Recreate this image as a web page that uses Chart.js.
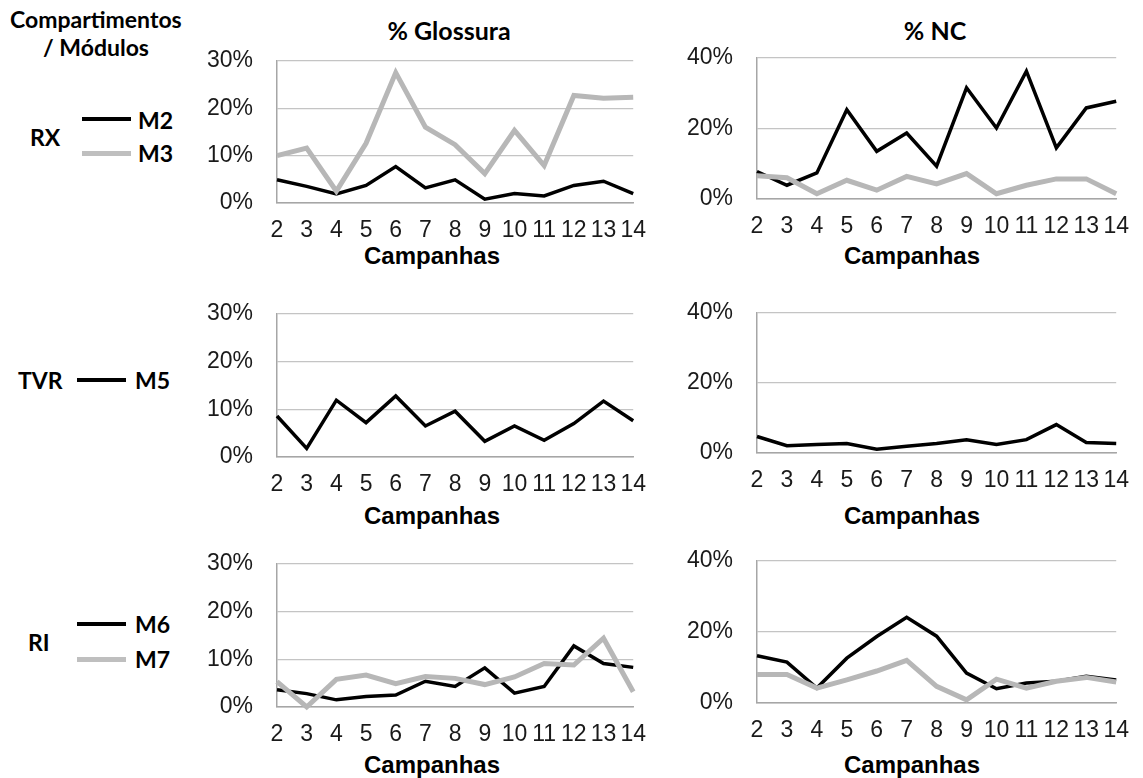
<!DOCTYPE html>
<html>
<head>
<meta charset="utf-8">
<script src="https://cdn.jsdelivr.net/npm/chart.js@4.4.1/dist/chart.umd.min.js"></script>
<style>
  html, body { margin: 0; padding: 0; background: #fff; }
  #page { position: relative; width: 1143px; height: 778px; overflow: hidden; }
  canvas { position: absolute; }
  .lbl { position: absolute; font-family: Lato, "Open Sans", sans-serif; font-weight: 700;
         font-size: 23px; color: #000; white-space: nowrap; line-height: 1; }
  .ttl { position: absolute; font-family: Lato, sans-serif; font-weight: 700; font-size: 25px;
         color: #000; white-space: nowrap; line-height: 1; transform: translate(-50%, -50%); }
  .xt { position: absolute; font-family: "Liberation Sans", Arial, sans-serif; font-weight: 700;
        font-size: 24px; color: #000; white-space: nowrap; line-height: 1; transform: translate(-50%, -50%); }
  .sw { position: absolute; height: 4px; width: 49px; }
</style>
</head>
<body>
<div id="page">
  <div class="lbl" style="left:10px; top:8px;">Compartimentos</div>
  <div class="lbl" style="left:43px; top:36px;">/ Módulos</div>

  <div class="lbl" style="left:30px; top:126px;">RX</div>
  <div class="sw" style="left:82px; top:117px; background:#000;"></div>
  <div class="lbl" style="left:138px; top:109px;">M2</div>
  <div class="sw" style="left:82px; top:151px; background:#bfbfbf; height:5px;"></div>
  <div class="lbl" style="left:138px; top:142px;">M3</div>

  <div class="lbl" style="left:18px; top:369px;">TVR</div>
  <div class="sw" style="left:77px; top:378px; background:#000;"></div>
  <div class="lbl" style="left:135px; top:369px;">M5</div>

  <div class="lbl" style="left:28px; top:631px;">RI</div>
  <div class="sw" style="left:77px; top:622px; background:#000;"></div>
  <div class="lbl" style="left:135px; top:613px;">M6</div>
  <div class="sw" style="left:77px; top:657px; background:#bfbfbf; height:5px;"></div>
  <div class="lbl" style="left:135px; top:648px;">M7</div>

  <div class="ttl" style="left:449px; top:30px;">% Glossura</div>
  <div class="ttl" style="left:935px; top:30px;">% NC</div>

  <div class="xt" style="left:432px; top:256px;">Campanhas</div>
  <div class="xt" style="left:912px; top:256px;">Campanhas</div>
  <div class="xt" style="left:432px; top:516px;">Campanhas</div>
  <div class="xt" style="left:912px; top:516px;">Campanhas</div>
  <div class="xt" style="left:432px; top:765px;">Campanhas</div>
  <div class="xt" style="left:912px; top:765px;">Campanhas</div>
</div>

<script>
// campanhas no eixo x
var campanhas = ['2', '3', '4', '5', '6', '7', '8', '9', '10', '11', '12', '13', '14'];

// ticks do eixo y (%)
var ticksGlossura = [0, 10, 20, 30];
var ticksNC = [0, 20, 40];

// RX
var rxGlossM2 = [4.9, 3.5, 1.9, 3.7, 7.7, 3.2, 4.9, 0.8, 2.0, 1.5, 3.7, 4.6, 2.0];
var rxGlossM3 = [10.0, 11.6, 2.5, 12.6, 27.5, 16.0, 12.3, 6.2, 15.3, 7.9, 22.7, 22.1, 22.3];
var rxNcM2 = [7.8, 3.9, 7.4, 25.3, 13.5, 18.7, 9.3, 31.5, 20.1, 36.2, 14.5, 25.8, 27.7];
var rxNcM3 = [6.6, 6.0, 1.5, 5.3, 2.5, 6.4, 4.3, 7.2, 1.5, 3.9, 5.7, 5.7, 1.5];

// TVR
var tvrGlossM5 = [8.6, 1.8, 11.9, 7.2, 12.8, 6.5, 9.6, 3.3, 6.5, 3.5, 7.0, 11.7, 7.6];
var tvrNcM5 = [4.7, 2.1, 2.4, 2.7, 1.1, 1.9, 2.7, 3.8, 2.4, 3.8, 8.1, 3.0, 2.7];

// RI
var riGlossM6 = [3.6, 2.8, 1.5, 2.2, 2.5, 5.4, 4.3, 8.2, 2.9, 4.3, 12.8, 9.1, 8.3];
var riGlossM7 = [5.3, 0, 5.8, 6.7, 4.9, 6.4, 6.0, 4.7, 6.3, 9.1, 8.8, 14.4, 3.2];
var riNcM6 = [13.3, 11.5, 4.2, 12.6, 18.7, 24.1, 18.8, 8.4, 4.0, 5.6, 6.1, 7.5, 6.5];
var riNcM7 = [8.0, 8.0, 4.2, 6.5, 9.0, 12.0, 4.7, 0.9, 6.7, 4.2, 6.1, 7.2, 5.9];

(function () {
  'use strict';

  var BLACK = '#000000';
  var GRAY = '#b7b7b7';
  var TICK_FONT = { family: '"Liberation Sans", Arial, sans-serif', size: 23 };
  var X_H = 46;

  function black(data) {
    return { data: data, borderColor: BLACK, borderWidth: 3.5, order: 1 };
  }
  function gray(data) {
    return { data: data, borderColor: GRAY, borderWidth: 5, order: 0 };
  }

  function config(ticks, datasets, padRight) {
    return {
      type: 'line',
      data: {
        labels: campanhas,
        datasets: datasets.map(function (d) {
          return Object.assign({ fill: false, tension: 0, pointRadius: 0, clip: false,
                                 borderJoinStyle: 'miter' }, d);
        })
      },
      options: {
        responsive: false,
        maintainAspectRatio: false,
        animation: false,
        layout: { padding: { top: 0, right: padRight, left: 0, bottom: 0 } },
        plugins: { legend: { display: false }, tooltip: { enabled: false } },
        scales: {
          x: {
            offset: false,
            grid: { display: false, drawTicks: false },
            border: { display: true, color: '#a6a6a6', width: 1.5 },
            ticks: { font: TICK_FONT, color: '#1a1a1a', padding: 14, autoSkip: false, maxRotation: 0 },
            afterFit: function (s) { s.height = X_H; }
          },
          y: {
            min: ticks[0],
            max: ticks[ticks.length - 1],
            ticks: {
              stepSize: ticks[1] - ticks[0],
              font: TICK_FONT, color: '#1a1a1a', padding: 24,
              callback: function (v) { return v + '%'; }
            },
            grid: { color: '#c4c4c4', lineWidth: 1.2, drawTicks: false },
            border: { display: true, color: '#a6a6a6', width: 1.5 },
            afterFit: function (s) { s.width = 77; }
          }
        }
      }
    };
  }

  function sizeCanvas(c, left, top, w, h) {
    c.width = w; c.height = h;
    c.style.left = left + 'px'; c.style.top = top + 'px';
    c.style.width = w + 'px'; c.style.height = h + 'px';
  }

  // plot area alvo: plotTop..plotBottom (px na página)
  function panel(left, width, padRight, plotTop, plotBottom, ticks, datasets) {
    var c = document.createElement('canvas');
    document.getElementById('page').appendChild(c);
    var h0 = 240;
    sizeCanvas(c, left, 0, width, h0);
    var probe = new Chart(c, config(ticks, datasets, padRight));
    var extraTop = probe.chartArea.top;
    var extraBot = h0 - probe.chartArea.bottom;
    probe.destroy();

    var h = Math.round(extraTop + (plotBottom - plotTop) + extraBot);
    sizeCanvas(c, left, Math.round(plotTop - extraTop), width, h);
    new Chart(c, config(ticks, datasets, padRight));
  }

  panel(200, 460, 23, 61, 203, ticksGlossura, [black(rxGlossM2), gray(rxGlossM3)]);
  panel(680, 463, 19, 58, 199, ticksNC, [black(rxNcM2), gray(rxNcM3)]);
  panel(200, 460, 23, 314, 457, ticksGlossura, [black(tvrGlossM5)]);
  panel(680, 463, 19, 313, 453, ticksNC, [black(tvrNcM5)]);
  panel(200, 460, 23, 564, 707, ticksGlossura, [black(riGlossM6), gray(riGlossM7)]);
  panel(680, 463, 19, 561, 703, ticksNC, [black(riNcM6), gray(riNcM7)]);
})();
</script>
</body>
</html>
